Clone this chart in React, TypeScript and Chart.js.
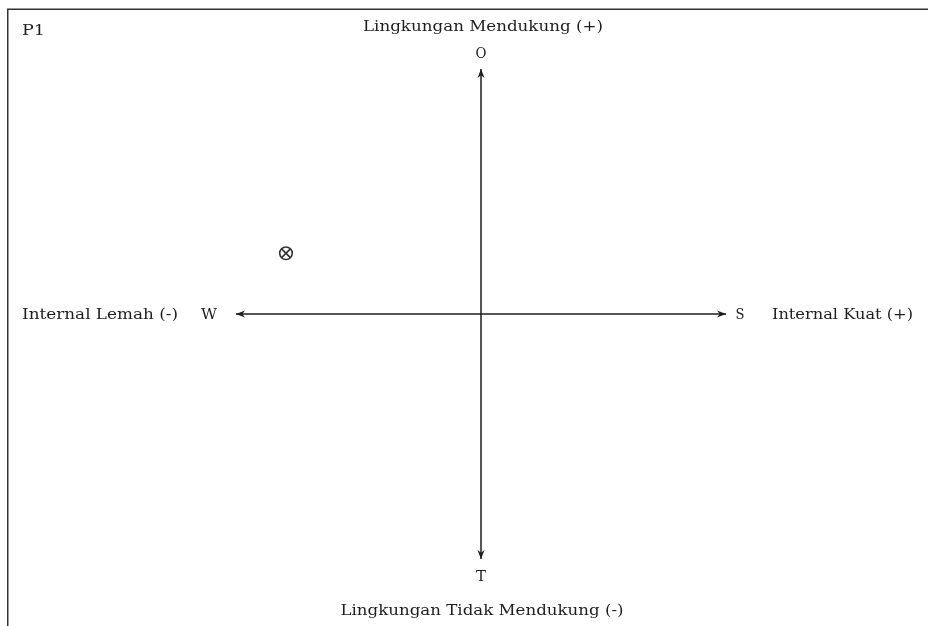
import React, { useEffect, useRef } from "react";
import { Chart, registerables } from "chart.js";

Chart.register(...registerables);

// Data
const axisMin = -2.5;
const axisMax = 2.5;
const pointLabel = "P1";
const pointX = [-1.99];
const pointY = [0.62];
const topLabel = "Lingkungan Mendukung (+)";
const bottomLabel = "Lingkungan Tidak Mendukung (-)";
const leftLabel = "Internal Lemah (-)";
const rightLabel = "Internal Kuat (+)";
const quadrantLetters = ["O", "T", "W", "S"]; // top, bottom, left, right

const FONT = '"DejaVu Serif", serif';
const INK = "#1e1e1e";

function wideText(ctx: any, text: string, x: number, y: number, target: number, align: "left" | "center") {
  ctx.save();
  const w = ctx.measureText(text).width;
  const k = target / w;
  const startX = align === "center" ? x - target / 2 : x;
  ctx.textAlign = "left";
  ctx.translate(startX, y);
  ctx.scale(k, 1);
  ctx.fillText(text, 0, 0);
  ctx.restore();
}

const swotPlugin = {
  id: "swotPlugin",
  beforeDraw(chart: any) {
    const { ctx, width, height } = chart;
    ctx.save();
    ctx.fillStyle = "#ffffff";
    ctx.fillRect(0, 0, width, height);
    ctx.strokeStyle = "#333333";
    ctx.lineWidth = 1.5;
    ctx.beginPath();
    ctx.moveTo(7.75, height + 5);
    ctx.lineTo(7.75, 9.25);
    ctx.lineTo(width + 5, 9.25);
    ctx.stroke();
    ctx.restore();
  },
  afterDatasetsDraw(chart: any) {
    const { ctx } = chart;
    const xs = chart.scales.x;
    const ys = chart.scales.y;
    const cx = xs.getPixelForValue(0);
    const cy = ys.getPixelForValue(0);
    const left = xs.getPixelForValue(axisMin);
    const right = xs.getPixelForValue(axisMax);
    const top = ys.getPixelForValue(axisMax);
    const bottom = ys.getPixelForValue(axisMin);

    ctx.save();
    ctx.fillStyle = INK;
    const head = (tx: number, ty: number, dx: number, dy: number) => {
      const L = 9, W = 3.5;
      const px = -dy, py = dx;
      ctx.beginPath();
      ctx.moveTo(tx, ty);
      ctx.lineTo(tx - dx * L + px * W, ty - dy * L + py * W);
      ctx.lineTo(tx - dx * L * 0.7, ty - dy * L * 0.7);
      ctx.lineTo(tx - dx * L - px * W, ty - dy * L - py * W);
      ctx.closePath();
      ctx.fill();
    };
    head(cx, top, 0, -1);
    head(cx, bottom, 0, 1);
    head(left, cy, -1, 0);
    head(right, cy, 1, 0);

    ctx.fillStyle = INK;
    ctx.textBaseline = "middle";
    ctx.font = `14px ${FONT}`;
    wideText(ctx, topLabel, cx + 2, 27, 240, "center");
    wideText(ctx, bottomLabel, cx + 1, 611, 283, "center");
    wideText(ctx, quadrantLetters[0], cx, top - 15, 11, "center");
    wideText(ctx, quadrantLetters[1], cx, bottom + 18, 10, "center");
    wideText(ctx, quadrantLetters[2], left - 27, cy + 1, 16, "center");
    wideText(ctx, quadrantLetters[3], right + 14, cy + 1, 9, "center");
    wideText(ctx, leftLabel, 22, cy + 1, 156, "left");
    wideText(ctx, rightLabel, 772, cy + 1, 141, "left");
    ctx.font = `15px ${FONT}`;
    wideText(ctx, pointLabel, 22, 31, 23, "left");
    ctx.restore();
  },
};

export default function App() {
  const ref = useRef<HTMLCanvasElement>(null);
  useEffect(() => {
    if (!ref.current) return;
    const pts = pointX.map((x, i) => ({ x, y: pointY[i] }));
    const chart = new Chart(ref.current, {
      type: "scatter",
      data: {
        datasets: [
          {
            label: pointLabel + "x",
            data: pts,
            pointStyle: "crossRot",
            pointRadius: 6.5,
            borderColor: "#333333",
            borderWidth: 1.6,
          },
          {
            label: pointLabel,
            data: pts,
            pointStyle: "circle",
            pointRadius: 6.3,
            backgroundColor: "rgba(0,0,0,0)",
            borderColor: "#333333",
            borderWidth: 1.6,
          },
          {
            label: "horizontal",
            data: [
              { x: axisMin, y: 0 },
              { x: axisMax, y: 0 },
            ],
            showLine: true,
            borderColor: INK,
            borderWidth: 1.5,
            pointRadius: 0,
          },
          {
            label: "vertical",
            data: [
              { x: 0, y: axisMin },
              { x: 0, y: axisMax },
            ],
            showLine: true,
            borderColor: INK,
            borderWidth: 1.5,
            pointRadius: 0,
          },
        ],
      },
      options: {
        responsive: false,
        animation: false,
        events: [],
        layout: { padding: { left: 236, right: 202, top: 69, bottom: 67 } },
        plugins: {
          legend: { display: false },
          tooltip: { enabled: false },
          title: { display: false },
        },
        scales: {
          x: { type: "linear", min: axisMin, max: axisMax, display: false },
          y: { type: "linear", min: axisMin, max: axisMax, display: false },
        },
      },
      plugins: [swotPlugin],
    });
    return () => chart.destroy();
  }, []);
  return (
    <div style={{ position: "fixed", left: 0, top: 0, width: 928, height: 626, background: "#fff" }}>
      <canvas ref={ref} width={928} height={626} style={{ display: "block" }} />
    </div>
  );
}
